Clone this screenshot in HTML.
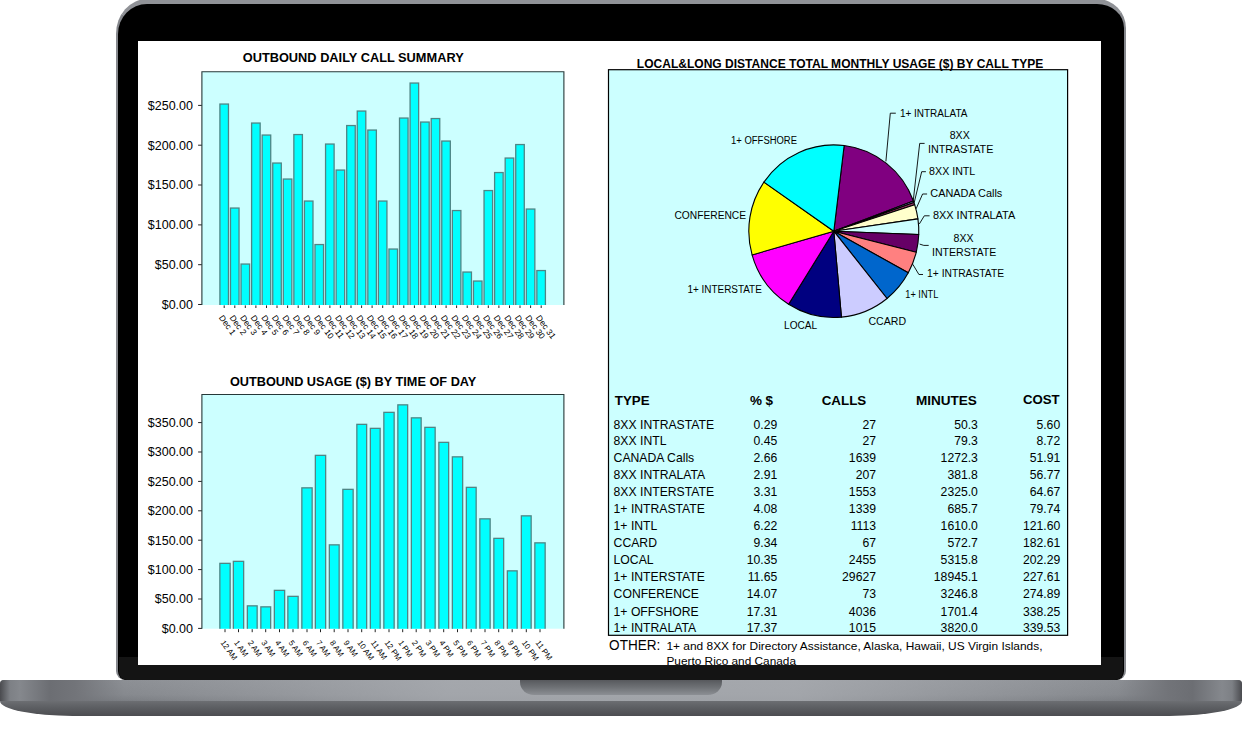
<!DOCTYPE html>
<html><head><meta charset="utf-8"><title>Call summary</title>
<style>
html,body{margin:0;padding:0;background:#fff;}
body{width:1243px;height:729px;position:relative;overflow:hidden;font-family:"Liberation Sans",Arial,sans-serif;}
.lid{position:absolute;left:116px;top:-1.5px;width:1009.5px;height:681.5px;box-sizing:border-box;background:#000;border-radius:31px 29px 9px 9px / 35px 29px 9px 9px;border:2.5px solid #86888d;border-top:5px solid #909297;border-bottom:0;}
.lidlow{position:absolute;left:118.5px;top:657px;width:1004.5px;height:23px;background:#141414;border-radius:0 0 8px 8px;}
.screen{position:absolute;left:137.7px;top:40.8px;width:963.5px;height:624px;background:#fff;overflow:hidden;}
.base{position:absolute;left:0;top:680px;width:1242px;height:21px;border-radius:4px 4px 0 0;
 background:linear-gradient(to bottom,#8d9095 0,#86898e 70%,#7b7e83 100%);overflow:hidden;}
.base:before{content:"";position:absolute;left:0;top:0;width:100%;height:100%;
 background:linear-gradient(to right,#4a4b4f 0,#7d8085 0.8%,#85888d 1.6%,#6c6e73 4%,#727479 6%,rgba(134,137,142,0) 10%,rgba(172,175,180,0.75) 36%,rgba(172,175,180,0.75) 64%,rgba(134,137,142,0) 90%,#727479 94%,#6c6e73 96%,#85888d 98.4%,#7d8085 99.2%,#4a4b4f 100%);}
.base2{position:absolute;left:0;top:700.5px;width:1242px;height:15.5px;border-radius:0 0 75px 75px / 0 0 15.5px 15.5px;
 background:linear-gradient(to bottom,#6c6e72 0,#5c5e62 45%,#4c4d51 100%);}
.notch{position:absolute;left:520px;top:680px;width:202px;height:14.5px;border-radius:0 0 14px 14px / 0 0 13px 13px;background:linear-gradient(to bottom,#57595d 0,#6f7276 50%,#8c8f94 100%);}
svg{position:absolute;left:0;top:0;}
svg text{font-family:"Liberation Sans",Arial,sans-serif;fill:#000;}
</style></head><body>
<div class="lid"></div><div class="lidlow"></div>
<div class="base"></div><div class="base2"></div><div class="notch"></div>
<div class="screen">
<svg width="1243" height="729" viewBox="137.7 40.8 1243 729" shape-rendering="auto">
<rect x="201.6" y="71.6" width="362.0" height="233.20000000000002" fill="#ccffff"/>
<clipPath id="cp1"><rect x="201.6" y="71.6" width="362.0" height="233.20000000000002"/></clipPath>
<text x="352.9" y="62" text-anchor="middle" font-size="12" font-weight="bold" textLength="221" lengthAdjust="spacingAndGlyphs">OUTBOUND DAILY CALL SUMMARY</text>
<line x1="197.8" y1="304.3" x2="201.6" y2="304.3" stroke="#222" stroke-width="1"/>
<text x="192.7" y="308.7" text-anchor="end" font-size="12.5">$0.00</text>
<line x1="197.8" y1="264.5" x2="201.6" y2="264.5" stroke="#222" stroke-width="1"/>
<text x="192.7" y="268.9" text-anchor="end" font-size="12.5">$50.00</text>
<line x1="197.8" y1="224.7" x2="201.6" y2="224.7" stroke="#222" stroke-width="1"/>
<text x="192.7" y="229.1" text-anchor="end" font-size="12.5">$100.00</text>
<line x1="197.8" y1="184.8" x2="201.6" y2="184.8" stroke="#222" stroke-width="1"/>
<text x="192.7" y="189.2" text-anchor="end" font-size="12.5">$150.00</text>
<line x1="197.8" y1="145.0" x2="201.6" y2="145.0" stroke="#222" stroke-width="1"/>
<text x="192.7" y="149.4" text-anchor="end" font-size="12.5">$200.00</text>
<line x1="197.8" y1="105.2" x2="201.6" y2="105.2" stroke="#222" stroke-width="1"/>
<text x="192.7" y="109.6" text-anchor="end" font-size="12.5">$250.00</text>
<g clip-path="url(#cp1)">
<rect x="219.61" y="103.85" width="8.55" height="216.80" fill="#00ffff" stroke="#4f8585" stroke-width="1.3"/>
<rect x="230.18" y="207.85" width="8.55" height="112.80" fill="#00ffff" stroke="#4f8585" stroke-width="1.3"/>
<rect x="240.74" y="263.85" width="8.55" height="56.80" fill="#00ffff" stroke="#4f8585" stroke-width="1.3"/>
<rect x="251.31" y="122.85" width="8.55" height="197.80" fill="#00ffff" stroke="#4f8585" stroke-width="1.3"/>
<rect x="261.87" y="134.85" width="8.55" height="185.80" fill="#00ffff" stroke="#4f8585" stroke-width="1.3"/>
<rect x="272.44" y="162.85" width="8.55" height="157.80" fill="#00ffff" stroke="#4f8585" stroke-width="1.3"/>
<rect x="283.00" y="178.85" width="8.55" height="141.80" fill="#00ffff" stroke="#4f8585" stroke-width="1.3"/>
<rect x="293.56" y="134.35" width="8.55" height="186.30" fill="#00ffff" stroke="#4f8585" stroke-width="1.3"/>
<rect x="304.13" y="200.85" width="8.55" height="119.80" fill="#00ffff" stroke="#4f8585" stroke-width="1.3"/>
<rect x="314.69" y="244.35" width="8.55" height="76.30" fill="#00ffff" stroke="#4f8585" stroke-width="1.3"/>
<rect x="325.26" y="143.85" width="8.55" height="176.80" fill="#00ffff" stroke="#4f8585" stroke-width="1.3"/>
<rect x="335.82" y="169.85" width="8.55" height="150.80" fill="#00ffff" stroke="#4f8585" stroke-width="1.3"/>
<rect x="346.39" y="125.35" width="8.55" height="195.30" fill="#00ffff" stroke="#4f8585" stroke-width="1.3"/>
<rect x="356.95" y="110.85" width="8.55" height="209.80" fill="#00ffff" stroke="#4f8585" stroke-width="1.3"/>
<rect x="367.52" y="129.85" width="8.55" height="190.80" fill="#00ffff" stroke="#4f8585" stroke-width="1.3"/>
<rect x="378.08" y="200.85" width="8.55" height="119.80" fill="#00ffff" stroke="#4f8585" stroke-width="1.3"/>
<rect x="388.65" y="248.85" width="8.55" height="71.80" fill="#00ffff" stroke="#4f8585" stroke-width="1.3"/>
<rect x="399.21" y="117.85" width="8.55" height="202.80" fill="#00ffff" stroke="#4f8585" stroke-width="1.3"/>
<rect x="409.78" y="82.85" width="8.55" height="237.80" fill="#00ffff" stroke="#4f8585" stroke-width="1.3"/>
<rect x="420.34" y="121.85" width="8.55" height="198.80" fill="#00ffff" stroke="#4f8585" stroke-width="1.3"/>
<rect x="430.91" y="118.35" width="8.55" height="202.30" fill="#00ffff" stroke="#4f8585" stroke-width="1.3"/>
<rect x="441.47" y="140.85" width="8.55" height="179.80" fill="#00ffff" stroke="#4f8585" stroke-width="1.3"/>
<rect x="452.04" y="210.35" width="8.55" height="110.30" fill="#00ffff" stroke="#4f8585" stroke-width="1.3"/>
<rect x="462.60" y="271.85" width="8.55" height="48.80" fill="#00ffff" stroke="#4f8585" stroke-width="1.3"/>
<rect x="473.17" y="280.85" width="8.55" height="39.80" fill="#00ffff" stroke="#4f8585" stroke-width="1.3"/>
<rect x="483.74" y="190.35" width="8.55" height="130.30" fill="#00ffff" stroke="#4f8585" stroke-width="1.3"/>
<rect x="494.30" y="172.35" width="8.55" height="148.30" fill="#00ffff" stroke="#4f8585" stroke-width="1.3"/>
<rect x="504.87" y="157.85" width="8.55" height="162.80" fill="#00ffff" stroke="#4f8585" stroke-width="1.3"/>
<rect x="515.43" y="144.35" width="8.55" height="176.30" fill="#00ffff" stroke="#4f8585" stroke-width="1.3"/>
<rect x="526.00" y="208.85" width="8.55" height="111.80" fill="#00ffff" stroke="#4f8585" stroke-width="1.3"/>
<rect x="536.56" y="270.35" width="8.55" height="50.30" fill="#00ffff" stroke="#4f8585" stroke-width="1.3"/>
</g>
<line x1="223.9" y1="305.2" x2="223.9" y2="307.8" stroke="#222" stroke-width="1"/>
<text transform="translate(218.3,317.6) rotate(54)" font-size="8.5">Dec 1</text>
<line x1="234.5" y1="305.2" x2="234.5" y2="307.8" stroke="#222" stroke-width="1"/>
<text transform="translate(228.9,317.6) rotate(54)" font-size="8.5">Dec 2</text>
<line x1="245.0" y1="305.2" x2="245.0" y2="307.8" stroke="#222" stroke-width="1"/>
<text transform="translate(239.4,317.6) rotate(54)" font-size="8.5">Dec 3</text>
<line x1="255.6" y1="305.2" x2="255.6" y2="307.8" stroke="#222" stroke-width="1"/>
<text transform="translate(250.0,317.6) rotate(54)" font-size="8.5">Dec 4</text>
<line x1="266.2" y1="305.2" x2="266.2" y2="307.8" stroke="#222" stroke-width="1"/>
<text transform="translate(260.6,317.6) rotate(54)" font-size="8.5">Dec 5</text>
<line x1="276.7" y1="305.2" x2="276.7" y2="307.8" stroke="#222" stroke-width="1"/>
<text transform="translate(271.1,317.6) rotate(54)" font-size="8.5">Dec 6</text>
<line x1="287.3" y1="305.2" x2="287.3" y2="307.8" stroke="#222" stroke-width="1"/>
<text transform="translate(281.7,317.6) rotate(54)" font-size="8.5">Dec 7</text>
<line x1="297.9" y1="305.2" x2="297.9" y2="307.8" stroke="#222" stroke-width="1"/>
<text transform="translate(292.3,317.6) rotate(54)" font-size="8.5">Dec 8</text>
<line x1="308.4" y1="305.2" x2="308.4" y2="307.8" stroke="#222" stroke-width="1"/>
<text transform="translate(302.8,317.6) rotate(54)" font-size="8.5">Dec 9</text>
<line x1="319.0" y1="305.2" x2="319.0" y2="307.8" stroke="#222" stroke-width="1"/>
<text transform="translate(313.4,317.6) rotate(54)" font-size="8.5">Dec 10</text>
<line x1="329.6" y1="305.2" x2="329.6" y2="307.8" stroke="#222" stroke-width="1"/>
<text transform="translate(324.0,317.6) rotate(54)" font-size="8.5">Dec 11</text>
<line x1="340.1" y1="305.2" x2="340.1" y2="307.8" stroke="#222" stroke-width="1"/>
<text transform="translate(334.5,317.6) rotate(54)" font-size="8.5">Dec 12</text>
<line x1="350.7" y1="305.2" x2="350.7" y2="307.8" stroke="#222" stroke-width="1"/>
<text transform="translate(345.1,317.6) rotate(54)" font-size="8.5">Dec 13</text>
<line x1="361.3" y1="305.2" x2="361.3" y2="307.8" stroke="#222" stroke-width="1"/>
<text transform="translate(355.7,317.6) rotate(54)" font-size="8.5">Dec 14</text>
<line x1="371.8" y1="305.2" x2="371.8" y2="307.8" stroke="#222" stroke-width="1"/>
<text transform="translate(366.2,317.6) rotate(54)" font-size="8.5">Dec 15</text>
<line x1="382.4" y1="305.2" x2="382.4" y2="307.8" stroke="#222" stroke-width="1"/>
<text transform="translate(376.8,317.6) rotate(54)" font-size="8.5">Dec 16</text>
<line x1="392.9" y1="305.2" x2="392.9" y2="307.8" stroke="#222" stroke-width="1"/>
<text transform="translate(387.3,317.6) rotate(54)" font-size="8.5">Dec 17</text>
<line x1="403.5" y1="305.2" x2="403.5" y2="307.8" stroke="#222" stroke-width="1"/>
<text transform="translate(397.9,317.6) rotate(54)" font-size="8.5">Dec 18</text>
<line x1="414.1" y1="305.2" x2="414.1" y2="307.8" stroke="#222" stroke-width="1"/>
<text transform="translate(408.5,317.6) rotate(54)" font-size="8.5">Dec 19</text>
<line x1="424.6" y1="305.2" x2="424.6" y2="307.8" stroke="#222" stroke-width="1"/>
<text transform="translate(419.0,317.6) rotate(54)" font-size="8.5">Dec 20</text>
<line x1="435.2" y1="305.2" x2="435.2" y2="307.8" stroke="#222" stroke-width="1"/>
<text transform="translate(429.6,317.6) rotate(54)" font-size="8.5">Dec 21</text>
<line x1="445.8" y1="305.2" x2="445.8" y2="307.8" stroke="#222" stroke-width="1"/>
<text transform="translate(440.2,317.6) rotate(54)" font-size="8.5">Dec 22</text>
<line x1="456.3" y1="305.2" x2="456.3" y2="307.8" stroke="#222" stroke-width="1"/>
<text transform="translate(450.7,317.6) rotate(54)" font-size="8.5">Dec 23</text>
<line x1="466.9" y1="305.2" x2="466.9" y2="307.8" stroke="#222" stroke-width="1"/>
<text transform="translate(461.3,317.6) rotate(54)" font-size="8.5">Dec 24</text>
<line x1="477.5" y1="305.2" x2="477.5" y2="307.8" stroke="#222" stroke-width="1"/>
<text transform="translate(471.9,317.6) rotate(54)" font-size="8.5">Dec 25</text>
<line x1="488.0" y1="305.2" x2="488.0" y2="307.8" stroke="#222" stroke-width="1"/>
<text transform="translate(482.4,317.6) rotate(54)" font-size="8.5">Dec 26</text>
<line x1="498.6" y1="305.2" x2="498.6" y2="307.8" stroke="#222" stroke-width="1"/>
<text transform="translate(493.0,317.6) rotate(54)" font-size="8.5">Dec 27</text>
<line x1="509.2" y1="305.2" x2="509.2" y2="307.8" stroke="#222" stroke-width="1"/>
<text transform="translate(503.6,317.6) rotate(54)" font-size="8.5">Dec 28</text>
<line x1="519.7" y1="305.2" x2="519.7" y2="307.8" stroke="#222" stroke-width="1"/>
<text transform="translate(514.1,317.6) rotate(54)" font-size="8.5">Dec 29</text>
<line x1="530.3" y1="305.2" x2="530.3" y2="307.8" stroke="#222" stroke-width="1"/>
<text transform="translate(524.7,317.6) rotate(54)" font-size="8.5">Dec 30</text>
<line x1="540.9" y1="305.2" x2="540.9" y2="307.8" stroke="#222" stroke-width="1"/>
<text transform="translate(535.3,317.6) rotate(54)" font-size="8.5">Dec 31</text>
<polyline points="201.6,304.8 201.6,71.6 563.6,71.6 563.6,304.8" fill="none" stroke="#263838" stroke-width="1.1"/>
<rect x="201.6" y="394.3" width="362.0" height="234.2" fill="#ccffff"/>
<clipPath id="cp2"><rect x="201.6" y="394.3" width="362.0" height="234.2"/></clipPath>
<text x="352.8" y="385.6" text-anchor="middle" font-size="13" font-weight="bold" textLength="246.4" lengthAdjust="spacingAndGlyphs">OUTBOUND USAGE ($) BY TIME OF DAY</text>
<line x1="197.8" y1="628.2" x2="201.6" y2="628.2" stroke="#222" stroke-width="1"/>
<text x="192.7" y="632.6" text-anchor="end" font-size="12.5">$0.00</text>
<line x1="197.8" y1="598.8" x2="201.6" y2="598.8" stroke="#222" stroke-width="1"/>
<text x="192.7" y="603.2" text-anchor="end" font-size="12.5">$50.00</text>
<line x1="197.8" y1="569.4" x2="201.6" y2="569.4" stroke="#222" stroke-width="1"/>
<text x="192.7" y="573.8" text-anchor="end" font-size="12.5">$100.00</text>
<line x1="197.8" y1="540.0" x2="201.6" y2="540.0" stroke="#222" stroke-width="1"/>
<text x="192.7" y="544.4" text-anchor="end" font-size="12.5">$150.00</text>
<line x1="197.8" y1="510.6" x2="201.6" y2="510.6" stroke="#222" stroke-width="1"/>
<text x="192.7" y="515.0" text-anchor="end" font-size="12.5">$200.00</text>
<line x1="197.8" y1="481.2" x2="201.6" y2="481.2" stroke="#222" stroke-width="1"/>
<text x="192.7" y="485.6" text-anchor="end" font-size="12.5">$250.00</text>
<line x1="197.8" y1="451.8" x2="201.6" y2="451.8" stroke="#222" stroke-width="1"/>
<text x="192.7" y="456.2" text-anchor="end" font-size="12.5">$300.00</text>
<line x1="197.8" y1="422.4" x2="201.6" y2="422.4" stroke="#222" stroke-width="1"/>
<text x="192.7" y="426.8" text-anchor="end" font-size="12.5">$350.00</text>
<g clip-path="url(#cp2)">
<rect x="219.55" y="563.15" width="10.30" height="87.50" fill="#00ffff" stroke="#4f8585" stroke-width="1.3"/>
<rect x="233.05" y="561.15" width="10.30" height="89.50" fill="#00ffff" stroke="#4f8585" stroke-width="1.3"/>
<rect x="247.05" y="605.65" width="9.80" height="45.00" fill="#00ffff" stroke="#4f8585" stroke-width="1.3"/>
<rect x="260.55" y="606.65" width="9.80" height="44.00" fill="#00ffff" stroke="#4f8585" stroke-width="1.3"/>
<rect x="274.05" y="590.15" width="10.30" height="60.50" fill="#00ffff" stroke="#4f8585" stroke-width="1.3"/>
<rect x="287.55" y="596.15" width="10.30" height="54.50" fill="#00ffff" stroke="#4f8585" stroke-width="1.3"/>
<rect x="301.55" y="487.65" width="10.30" height="163.00" fill="#00ffff" stroke="#4f8585" stroke-width="1.3"/>
<rect x="315.05" y="455.15" width="10.30" height="195.50" fill="#00ffff" stroke="#4f8585" stroke-width="1.3"/>
<rect x="329.05" y="544.65" width="9.80" height="106.00" fill="#00ffff" stroke="#4f8585" stroke-width="1.3"/>
<rect x="342.55" y="489.15" width="10.30" height="161.50" fill="#00ffff" stroke="#4f8585" stroke-width="1.3"/>
<rect x="356.55" y="424.15" width="9.80" height="226.50" fill="#00ffff" stroke="#4f8585" stroke-width="1.3"/>
<rect x="370.05" y="428.15" width="9.80" height="222.50" fill="#00ffff" stroke="#4f8585" stroke-width="1.3"/>
<rect x="383.55" y="412.15" width="10.30" height="238.50" fill="#00ffff" stroke="#4f8585" stroke-width="1.3"/>
<rect x="397.55" y="404.65" width="9.80" height="246.00" fill="#00ffff" stroke="#4f8585" stroke-width="1.3"/>
<rect x="411.05" y="417.65" width="9.80" height="233.00" fill="#00ffff" stroke="#4f8585" stroke-width="1.3"/>
<rect x="424.55" y="427.15" width="10.30" height="223.50" fill="#00ffff" stroke="#4f8585" stroke-width="1.3"/>
<rect x="438.55" y="442.15" width="9.80" height="208.50" fill="#00ffff" stroke="#4f8585" stroke-width="1.3"/>
<rect x="452.05" y="456.65" width="10.30" height="194.00" fill="#00ffff" stroke="#4f8585" stroke-width="1.3"/>
<rect x="466.05" y="487.15" width="9.80" height="163.50" fill="#00ffff" stroke="#4f8585" stroke-width="1.3"/>
<rect x="479.55" y="518.65" width="10.30" height="132.00" fill="#00ffff" stroke="#4f8585" stroke-width="1.3"/>
<rect x="493.55" y="538.15" width="9.80" height="112.50" fill="#00ffff" stroke="#4f8585" stroke-width="1.3"/>
<rect x="507.05" y="570.65" width="9.80" height="80.00" fill="#00ffff" stroke="#4f8585" stroke-width="1.3"/>
<rect x="521.05" y="515.65" width="9.80" height="135.00" fill="#00ffff" stroke="#4f8585" stroke-width="1.3"/>
<rect x="534.55" y="542.65" width="10.30" height="108.00" fill="#00ffff" stroke="#4f8585" stroke-width="1.3"/>
</g>
<line x1="224.7" y1="629" x2="224.7" y2="632" stroke="#222" stroke-width="1"/>
<text transform="translate(219.9,642.6) rotate(54)" font-size="7.9">12 AM</text>
<line x1="238.2" y1="629" x2="238.2" y2="632" stroke="#222" stroke-width="1"/>
<text transform="translate(233.4,642.6) rotate(54)" font-size="7.9">1 AM</text>
<line x1="251.9" y1="629" x2="251.9" y2="632" stroke="#222" stroke-width="1"/>
<text transform="translate(247.1,642.6) rotate(54)" font-size="7.9">2 AM</text>
<line x1="265.4" y1="629" x2="265.4" y2="632" stroke="#222" stroke-width="1"/>
<text transform="translate(260.6,642.6) rotate(54)" font-size="7.9">3 AM</text>
<line x1="279.2" y1="629" x2="279.2" y2="632" stroke="#222" stroke-width="1"/>
<text transform="translate(274.4,642.6) rotate(54)" font-size="7.9">4 AM</text>
<line x1="292.7" y1="629" x2="292.7" y2="632" stroke="#222" stroke-width="1"/>
<text transform="translate(287.9,642.6) rotate(54)" font-size="7.9">5 AM</text>
<line x1="306.7" y1="629" x2="306.7" y2="632" stroke="#222" stroke-width="1"/>
<text transform="translate(301.9,642.6) rotate(54)" font-size="7.9">6 AM</text>
<line x1="320.2" y1="629" x2="320.2" y2="632" stroke="#222" stroke-width="1"/>
<text transform="translate(315.4,642.6) rotate(54)" font-size="7.9">7 AM</text>
<line x1="333.9" y1="629" x2="333.9" y2="632" stroke="#222" stroke-width="1"/>
<text transform="translate(329.1,642.6) rotate(54)" font-size="7.9">8 AM</text>
<line x1="347.7" y1="629" x2="347.7" y2="632" stroke="#222" stroke-width="1"/>
<text transform="translate(342.9,642.6) rotate(54)" font-size="7.9">9 AM</text>
<line x1="361.4" y1="629" x2="361.4" y2="632" stroke="#222" stroke-width="1"/>
<text transform="translate(356.6,642.6) rotate(54)" font-size="7.9">10 AM</text>
<line x1="374.9" y1="629" x2="374.9" y2="632" stroke="#222" stroke-width="1"/>
<text transform="translate(370.1,642.6) rotate(54)" font-size="7.9">11 AM</text>
<line x1="388.7" y1="629" x2="388.7" y2="632" stroke="#222" stroke-width="1"/>
<text transform="translate(383.9,642.6) rotate(54)" font-size="7.9">12 PM</text>
<line x1="402.4" y1="629" x2="402.4" y2="632" stroke="#222" stroke-width="1"/>
<text transform="translate(397.6,642.6) rotate(54)" font-size="7.9">1 PM</text>
<line x1="415.9" y1="629" x2="415.9" y2="632" stroke="#222" stroke-width="1"/>
<text transform="translate(411.1,642.6) rotate(54)" font-size="7.9">2 PM</text>
<line x1="429.7" y1="629" x2="429.7" y2="632" stroke="#222" stroke-width="1"/>
<text transform="translate(424.9,642.6) rotate(54)" font-size="7.9">3 PM</text>
<line x1="443.4" y1="629" x2="443.4" y2="632" stroke="#222" stroke-width="1"/>
<text transform="translate(438.6,642.6) rotate(54)" font-size="7.9">4 PM</text>
<line x1="457.2" y1="629" x2="457.2" y2="632" stroke="#222" stroke-width="1"/>
<text transform="translate(452.4,642.6) rotate(54)" font-size="7.9">5 PM</text>
<line x1="470.9" y1="629" x2="470.9" y2="632" stroke="#222" stroke-width="1"/>
<text transform="translate(466.1,642.6) rotate(54)" font-size="7.9">6 PM</text>
<line x1="484.7" y1="629" x2="484.7" y2="632" stroke="#222" stroke-width="1"/>
<text transform="translate(479.9,642.6) rotate(54)" font-size="7.9">7 PM</text>
<line x1="498.4" y1="629" x2="498.4" y2="632" stroke="#222" stroke-width="1"/>
<text transform="translate(493.6,642.6) rotate(54)" font-size="7.9">8 PM</text>
<line x1="511.9" y1="629" x2="511.9" y2="632" stroke="#222" stroke-width="1"/>
<text transform="translate(507.1,642.6) rotate(54)" font-size="7.9">9 PM</text>
<line x1="526.0" y1="629" x2="526.0" y2="632" stroke="#222" stroke-width="1"/>
<text transform="translate(521.2,642.6) rotate(54)" font-size="7.9">10 PM</text>
<line x1="539.7" y1="629" x2="539.7" y2="632" stroke="#222" stroke-width="1"/>
<text transform="translate(534.9,642.6) rotate(54)" font-size="7.9">11 PM</text>
<polyline points="201.6,628.5 201.6,394.3 563.6,394.3 563.6,628.5" fill="none" stroke="#263838" stroke-width="1.1"/>
<rect x="608.2" y="69.5" width="459.1" height="565.6" fill="#ccffff" stroke="#000" stroke-width="1.2"/>
<text x="636.5" y="67.6" font-size="13.2" font-weight="bold" textLength="406.5" lengthAdjust="spacingAndGlyphs">LOCAL&amp;LONG DISTANCE TOTAL MONTHLY USAGE ($) BY CALL TYPE</text>
<path d="M833.5,231 L843.86,145.34 A85,86.3 0 0 1 913.13,200.81 Z" fill="#800080" stroke="#000" stroke-width="1.1" stroke-linejoin="round"/>
<path d="M833.5,231 L913.13,200.81 A85,86.3 0 0 1 913.66,202.29 Z" fill="#9999ff" stroke="#000" stroke-width="1.1" stroke-linejoin="round"/>
<path d="M833.5,231 L913.66,202.29 A85,86.3 0 0 1 914.43,204.60 Z" fill="#993366" stroke="#000" stroke-width="1.1" stroke-linejoin="round"/>
<path d="M833.5,231 L914.43,204.60 A85,86.3 0 0 1 917.62,218.64 Z" fill="#ffffcc" stroke="#000" stroke-width="1.1" stroke-linejoin="round"/>
<path d="M833.5,231 L917.62,218.64 A85,86.3 0 0 1 918.44,234.37 Z" fill="#ccffff" stroke="#000" stroke-width="1.1" stroke-linejoin="round"/>
<path d="M833.5,231 L918.44,234.37 A85,86.3 0 0 1 915.92,252.10 Z" fill="#660066" stroke="#000" stroke-width="1.1" stroke-linejoin="round"/>
<path d="M833.5,231 L915.92,252.10 A85,86.3 0 0 1 907.96,272.63 Z" fill="#ff8080" stroke="#000" stroke-width="1.1" stroke-linejoin="round"/>
<path d="M833.5,231 L907.96,272.63 A85,86.3 0 0 1 886.73,298.29 Z" fill="#0066cc" stroke="#000" stroke-width="1.1" stroke-linejoin="round"/>
<path d="M833.5,231 L886.73,298.29 A85,86.3 0 0 1 841.13,316.95 Z" fill="#ccccff" stroke="#000" stroke-width="1.1" stroke-linejoin="round"/>
<path d="M833.5,231 L841.13,316.95 A85,86.3 0 0 1 788.32,304.10 Z" fill="#000080" stroke="#000" stroke-width="1.1" stroke-linejoin="round"/>
<path d="M833.5,231 L788.32,304.10 A85,86.3 0 0 1 751.78,254.72 Z" fill="#ff00ff" stroke="#000" stroke-width="1.1" stroke-linejoin="round"/>
<path d="M833.5,231 L751.78,254.72 A85,86.3 0 0 1 763.61,181.88 Z" fill="#ffff00" stroke="#000" stroke-width="1.1" stroke-linejoin="round"/>
<path d="M833.5,231 L763.61,181.88 A85,86.3 0 0 1 843.86,145.34 Z" fill="#00ffff" stroke="#000" stroke-width="1.1" stroke-linejoin="round"/>
<polyline points="885.6,161.2 890,113 895.5,113" fill="none" stroke="#000" stroke-width="0.9"/>
<polyline points="913,200 919.4,143.2 924.3,143.2" fill="none" stroke="#000" stroke-width="0.9"/>
<polyline points="914,202 921.4,171.5 925.6,171.5" fill="none" stroke="#000" stroke-width="0.9"/>
<polyline points="915.8,208.6 922.3,193.8 926.8,193.8" fill="none" stroke="#000" stroke-width="0.9"/>
<polyline points="919,223.8 924,215.6 929.3,215.6" fill="none" stroke="#000" stroke-width="0.9"/>
<polyline points="919.4,243.9 923.5,245.2 928.4,245.2" fill="none" stroke="#000" stroke-width="0.9"/>
<polyline points="912.5,264.1 918.6,274.3 922.7,274.3" fill="none" stroke="#000" stroke-width="0.9"/>
<text x="899.6" y="116.9" font-size="10" text-anchor="start" textLength="67.5" lengthAdjust="spacingAndGlyphs">1+ INTRALATA</text>
<text x="949.4" y="138.6" font-size="10" text-anchor="start" textLength="20" lengthAdjust="spacingAndGlyphs">8XX</text>
<text x="927.6" y="152.9" font-size="10" text-anchor="start" textLength="65.5" lengthAdjust="spacingAndGlyphs">INTRASTATE</text>
<text x="928.8" y="174.5" font-size="10" text-anchor="start" textLength="46.2" lengthAdjust="spacingAndGlyphs">8XX INTL</text>
<text x="930" y="196.6" font-size="10" text-anchor="start" textLength="72" lengthAdjust="spacingAndGlyphs">CANADA Calls</text>
<text x="932.6" y="218.9" font-size="10" text-anchor="start" textLength="82.3" lengthAdjust="spacingAndGlyphs">8XX INTRALATA</text>
<text x="953.3" y="241.6" font-size="10" text-anchor="start" textLength="20" lengthAdjust="spacingAndGlyphs">8XX</text>
<text x="931.7" y="255.6" font-size="10" text-anchor="start" textLength="64.3" lengthAdjust="spacingAndGlyphs">INTERSTATE</text>
<text x="926.8" y="276.8" font-size="10" text-anchor="start" textLength="76.9" lengthAdjust="spacingAndGlyphs">1+ INTRASTATE</text>
<text x="905" y="297.9" font-size="10" text-anchor="start" textLength="33" lengthAdjust="spacingAndGlyphs">1+ INTL</text>
<text x="730.8" y="144" font-size="10" text-anchor="start" textLength="65.9" lengthAdjust="spacingAndGlyphs">1+ OFFSHORE</text>
<text x="674.2" y="218.6" font-size="10" text-anchor="start" textLength="71.6" lengthAdjust="spacingAndGlyphs">CONFERENCE</text>
<text x="687.2" y="292.7" font-size="10" text-anchor="start" textLength="74.3" lengthAdjust="spacingAndGlyphs">1+ INTERSTATE</text>
<text x="783.8" y="328.5" font-size="10" text-anchor="start" textLength="33.1" lengthAdjust="spacingAndGlyphs">LOCAL</text>
<text x="868.2" y="324.7" font-size="10" text-anchor="start" textLength="37.6" lengthAdjust="spacingAndGlyphs">CCARD</text>
<text x="614.5" y="404.7" font-size="12" font-weight="bold" textLength="34.7" lengthAdjust="spacingAndGlyphs">TYPE</text>
<text x="749.6" y="404.7" font-size="12" font-weight="bold" textLength="23.2" lengthAdjust="spacingAndGlyphs">% $</text>
<text x="821.4" y="404.7" font-size="12" font-weight="bold" textLength="44.5" lengthAdjust="spacingAndGlyphs">CALLS</text>
<text x="915.6" y="404.7" font-size="12" font-weight="bold" textLength="61" lengthAdjust="spacingAndGlyphs">MINUTES</text>
<text x="1022.7" y="403.7" font-size="12" font-weight="bold" textLength="36.7" lengthAdjust="spacingAndGlyphs">COST</text>
<text x="613.3" y="428.4" font-size="12.2">8XX INTRASTATE</text>
<text x="777" y="428.4" font-size="12.2" text-anchor="end">0.29</text>
<text x="875.7" y="428.4" font-size="12.2" text-anchor="end">27</text>
<text x="977.6" y="428.4" font-size="12.2" text-anchor="end">50.3</text>
<text x="1059.9" y="428.4" font-size="12.2" text-anchor="end">5.60</text>
<text x="613.3" y="444.9" font-size="12.2">8XX INTL</text>
<text x="777" y="444.9" font-size="12.2" text-anchor="end">0.45</text>
<text x="875.7" y="444.9" font-size="12.2" text-anchor="end">27</text>
<text x="977.6" y="444.9" font-size="12.2" text-anchor="end">79.3</text>
<text x="1059.9" y="444.9" font-size="12.2" text-anchor="end">8.72</text>
<text x="613.3" y="461.6" font-size="12.2">CANADA Calls</text>
<text x="777" y="461.6" font-size="12.2" text-anchor="end">2.66</text>
<text x="875.7" y="461.6" font-size="12.2" text-anchor="end">1639</text>
<text x="977.6" y="461.6" font-size="12.2" text-anchor="end">1272.3</text>
<text x="1059.9" y="461.6" font-size="12.2" text-anchor="end">51.91</text>
<text x="613.3" y="478.8" font-size="12.2">8XX INTRALATA</text>
<text x="777" y="478.8" font-size="12.2" text-anchor="end">2.91</text>
<text x="875.7" y="478.8" font-size="12.2" text-anchor="end">207</text>
<text x="977.6" y="478.8" font-size="12.2" text-anchor="end">381.8</text>
<text x="1059.9" y="478.8" font-size="12.2" text-anchor="end">56.77</text>
<text x="613.3" y="495.8" font-size="12.2">8XX INTERSTATE</text>
<text x="777" y="495.8" font-size="12.2" text-anchor="end">3.31</text>
<text x="875.7" y="495.8" font-size="12.2" text-anchor="end">1553</text>
<text x="977.6" y="495.8" font-size="12.2" text-anchor="end">2325.0</text>
<text x="1059.9" y="495.8" font-size="12.2" text-anchor="end">64.67</text>
<text x="613.3" y="512.4" font-size="12.2">1+ INTRASTATE</text>
<text x="777" y="512.4" font-size="12.2" text-anchor="end">4.08</text>
<text x="875.7" y="512.4" font-size="12.2" text-anchor="end">1339</text>
<text x="977.6" y="512.4" font-size="12.2" text-anchor="end">685.7</text>
<text x="1059.9" y="512.4" font-size="12.2" text-anchor="end">79.74</text>
<text x="613.3" y="529.5" font-size="12.2">1+ INTL</text>
<text x="777" y="529.5" font-size="12.2" text-anchor="end">6.22</text>
<text x="875.7" y="529.5" font-size="12.2" text-anchor="end">1113</text>
<text x="977.6" y="529.5" font-size="12.2" text-anchor="end">1610.0</text>
<text x="1059.9" y="529.5" font-size="12.2" text-anchor="end">121.60</text>
<text x="613.3" y="546.7" font-size="12.2">CCARD</text>
<text x="777" y="546.7" font-size="12.2" text-anchor="end">9.34</text>
<text x="875.7" y="546.7" font-size="12.2" text-anchor="end">67</text>
<text x="977.6" y="546.7" font-size="12.2" text-anchor="end">572.7</text>
<text x="1059.9" y="546.7" font-size="12.2" text-anchor="end">182.61</text>
<text x="613.3" y="563.6" font-size="12.2">LOCAL</text>
<text x="777" y="563.6" font-size="12.2" text-anchor="end">10.35</text>
<text x="875.7" y="563.6" font-size="12.2" text-anchor="end">2455</text>
<text x="977.6" y="563.6" font-size="12.2" text-anchor="end">5315.8</text>
<text x="1059.9" y="563.6" font-size="12.2" text-anchor="end">202.29</text>
<text x="613.3" y="580.6" font-size="12.2">1+ INTERSTATE</text>
<text x="777" y="580.6" font-size="12.2" text-anchor="end">11.65</text>
<text x="875.7" y="580.6" font-size="12.2" text-anchor="end">29627</text>
<text x="977.6" y="580.6" font-size="12.2" text-anchor="end">18945.1</text>
<text x="1059.9" y="580.6" font-size="12.2" text-anchor="end">227.61</text>
<text x="613.3" y="597.7" font-size="12.2">CONFERENCE</text>
<text x="777" y="597.7" font-size="12.2" text-anchor="end">14.07</text>
<text x="875.7" y="597.7" font-size="12.2" text-anchor="end">73</text>
<text x="977.6" y="597.7" font-size="12.2" text-anchor="end">3246.8</text>
<text x="1059.9" y="597.7" font-size="12.2" text-anchor="end">274.89</text>
<text x="613.3" y="615.5" font-size="12.2">1+ OFFSHORE</text>
<text x="777" y="615.5" font-size="12.2" text-anchor="end">17.31</text>
<text x="875.7" y="615.5" font-size="12.2" text-anchor="end">4036</text>
<text x="977.6" y="615.5" font-size="12.2" text-anchor="end">1701.4</text>
<text x="1059.9" y="615.5" font-size="12.2" text-anchor="end">338.25</text>
<text x="613.3" y="631.7" font-size="12.2">1+ INTRALATA</text>
<text x="777" y="631.7" font-size="12.2" text-anchor="end">17.37</text>
<text x="875.7" y="631.7" font-size="12.2" text-anchor="end">1015</text>
<text x="977.6" y="631.7" font-size="12.2" text-anchor="end">3820.0</text>
<text x="1059.9" y="631.7" font-size="12.2" text-anchor="end">339.53</text>
<text x="608.8" y="650.3" font-size="14" textLength="51.2" lengthAdjust="spacingAndGlyphs">OTHER:</text>
<text x="666.2" y="650.1" font-size="11.3" textLength="376" lengthAdjust="spacingAndGlyphs">1+ and 8XX for Directory Assistance, Alaska, Hawaii, US Virgin Islands,</text>
<text x="666.2" y="665" font-size="11.3" textLength="129.5" lengthAdjust="spacingAndGlyphs">Puerto Rico and Canada</text>
</svg>
</div>
</body></html>
